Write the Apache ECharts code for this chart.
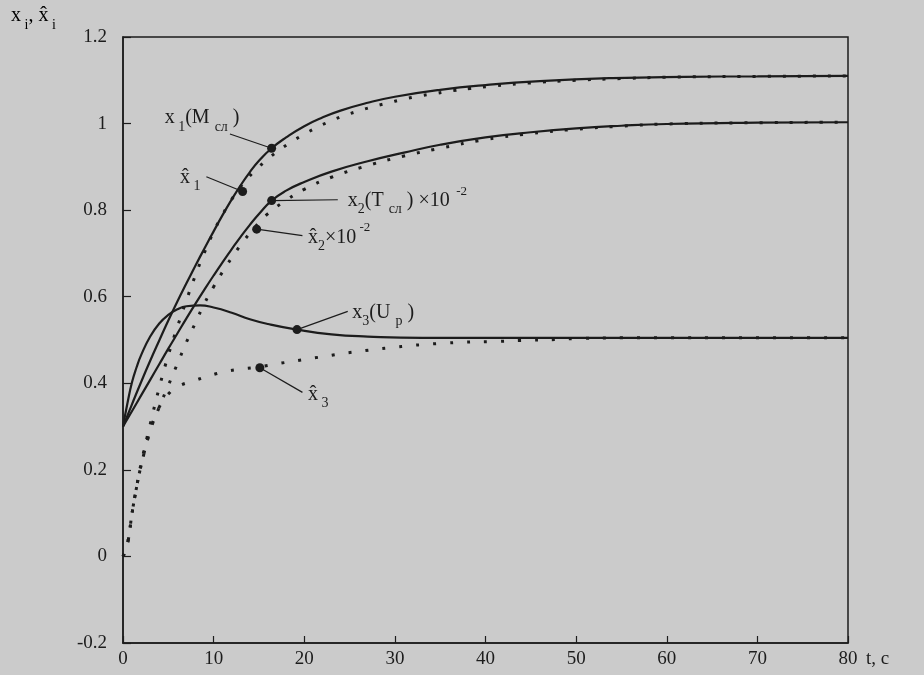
<!DOCTYPE html>
<html>
<head>
<meta charset="utf-8">
<script src="https://cdn.jsdelivr.net/npm/echarts@6/dist/echarts.min.js"></script>
<style>
  html, body { margin: 0; background: #cbcbcb; }
  #chart { width: 924px; height: 675px; }
</style>
</head>
<body>
<div id="chart"></div>
<script>
// x1 (Mсл), solid
const t1 = [0, 1, 2, 3, 4, 5, 6, 7, 8, 9, 10, 11, 12, 13, 14, 15, 16.4, 18, 20, 22, 24, 27, 30, 35, 40, 46, 54, 62, 70, 80]
const x1 = [0.30, 0.352, 0.403, 0.452, 0.499, 0.545, 0.589, 0.631, 0.672, 0.712, 0.751, 0.789, 0.825, 0.858, 0.888, 0.914, 0.943, 0.968, 0.994, 1.014, 1.03, 1.048, 1.062, 1.078, 1.089, 1.098, 1.105, 1.108, 1.109, 1.11]

// x2 (Tсл) x 10^-2, solid
const t2 = [0, 1, 2, 3, 4, 5, 6, 7, 8, 9, 10, 11, 12, 13, 14, 15, 16.4, 18, 20, 23, 27, 31, 35, 40, 45, 50, 55, 60, 70, 80]
const x2 = [0.30, 0.336, 0.372, 0.408, 0.444, 0.48, 0.515, 0.55, 0.584, 0.617, 0.649, 0.68, 0.71, 0.739, 0.766, 0.791, 0.822, 0.845, 0.865, 0.889, 0.913, 0.933, 0.951, 0.968, 0.98, 0.989, 0.995, 0.999, 1.002, 1.003]

// x3 (Uр), solid
const t3 = [0, 0.5, 1, 1.5, 2, 3, 4, 5, 6, 7, 8.5, 10, 12, 14, 16, 19.2, 23, 27, 33, 40, 50, 60, 80]
const x3 = [0.30, 0.355, 0.403, 0.437, 0.465, 0.508, 0.538, 0.558, 0.571, 0.578, 0.58, 0.575, 0.563, 0.548, 0.537, 0.524, 0.513, 0.508, 0.505, 0.505, 0.505, 0.505, 0.505]

// estimates, dotted
const th1 = [0, 0.5, 1, 1.5, 2, 3, 4, 5, 6, 7, 8, 9, 10, 11, 12, 13, 14.4, 15.7, 17, 18.3, 19.7, 21.2, 22.7, 24.1, 25.8, 27.4, 29.1, 30.9, 32.8, 34.6, 36.4, 38.3, 41, 45, 50, 55, 60, 70, 80]
const xh1 = [0, 0.03, 0.1, 0.16, 0.215, 0.305, 0.39, 0.465, 0.53, 0.592, 0.65, 0.703, 0.75, 0.79, 0.825, 0.855, 0.888, 0.913, 0.935, 0.954, 0.972, 0.989, 1.004, 1.016, 1.028, 1.038, 1.047, 1.056, 1.064, 1.07, 1.076, 1.081, 1.087, 1.094, 1.1, 1.104, 1.107, 1.109, 1.11]

const th2 = [0, 0.5, 1, 1.5, 2, 3, 4, 5, 6, 7, 8, 9, 10, 11, 12, 13, 14, 15, 16, 18, 20, 23, 27, 31, 35, 40, 45, 50, 55, 60, 70, 80]
const xh2 = [0, 0.03, 0.1, 0.16, 0.21, 0.29, 0.345, 0.395, 0.445, 0.495, 0.54, 0.585, 0.623, 0.658, 0.69, 0.72, 0.747, 0.771, 0.792, 0.823, 0.848, 0.876, 0.903, 0.925, 0.943, 0.963, 0.977, 0.987, 0.994, 0.999, 1.002, 1.003]

const th3 = [0, 0.5, 1, 1.5, 2, 3, 4, 5, 6, 8, 9.6, 11.3, 13.1, 15.1, 17, 18.8, 20.6, 22.5, 24.3, 26.2, 28, 29.8, 31.7, 33.5, 35.7, 37.7, 41.6, 43.8, 47.8, 49.7, 55, 80]
const xh3 = [0, 0.03, 0.1, 0.16, 0.21, 0.29, 0.345, 0.375, 0.392, 0.407, 0.418, 0.427, 0.433, 0.438, 0.445, 0.451, 0.457, 0.463, 0.469, 0.474, 0.479, 0.483, 0.487, 0.49, 0.493, 0.495, 0.497, 0.499, 0.501, 0.503, 0.505, 0.505]

// label dots on the curves
const markT = [16.4, 13.2, 16.4, 14.75, 19.2, 15.1]
const markY = [0.943, 0.843, 0.822, 0.756, 0.524, 0.436]

const xTicks = [0, 10, 20, 30, 40, 50, 60, 70, 80]
const yTicks = [-0.2, 0, 0.2, 0.4, 0.6, 0.8, 1, 1.2]

const serif = 'Liberation Serif'
const ink = '#1c1c1c'

// где стоят подписи и откуда идут выноски (в единицах осей)
const notes = [
  { at: [4.6, 1.013], from: [11.8, 0.976], text: '{n|x}{s| 1}{n|(M }{s|сл}{n| )}' },
  { at: [6.3, 0.875], from: [9.2, 0.877], text: '{n|x\u0302}{s| 1}' },
  { at: [24.8, 0.822], from: [23.7, 0.824], text: '{n|x}{s|2}{n|(T }{s|сл}{n| ) ×10}{p|  -2}' },
  { at: [20.4, 0.737], from: [19.8, 0.741], text: '{n|x\u0302}{s|2}{n|×10}{p| -2}' },
  { at: [25.3, 0.564], from: [24.8, 0.566], text: '{n|x}{s|3}{n|(U }{s|р}{n| )}' },
  { at: [20.4, 0.374], from: [19.8, 0.379], text: '{n|x\u0302}{s| 3}' }
]

const rich = {
  n: { fontFamily: serif, fontSize: 20, color: ink, lineHeight: 32 },
  s: { fontFamily: serif, fontSize: 14, color: ink, verticalAlign: 'bottom' },
  p: { fontFamily: serif, fontSize: 13, color: ink, verticalAlign: 'top' }
}

const pairs = (t, v) => t.map((ti, i) => [ti, v[i]])

const solid = (name, t, v) => ({
  name, type: 'line', data: pairs(t, v), showSymbol: false, smooth: 0.5,
  lineStyle: { color: ink, width: 2.2 }
})
const dotted = (name, t, v, gap) => ({
  name, type: 'line', data: pairs(t, v), showSymbol: false, smooth: 0.5,
  lineStyle: { color: ink, width: 3, type: [3, gap] }
})

const chart = echarts.init(document.getElementById('chart'))
chart.setOption({
  animation: false,
  backgroundColor: '#cbcbcb',
  grid: { left: 123, right: 76, top: 37, bottom: 32, show: true, borderColor: ink, borderWidth: 1.5 },
  xAxis: {
    type: 'value', min: xTicks[0], max: xTicks[xTicks.length - 1], interval: 10,
    axisLine: { onZero: false, lineStyle: { color: ink, width: 1.5 } },
    axisTick: { inside: true, length: 7, lineStyle: { color: ink, width: 1.2 } },
    axisLabel: { color: ink, fontFamily: serif, fontSize: 19, margin: 7 },
    splitLine: { show: false }
  },
  yAxis: {
    type: 'value', min: yTicks[0], max: yTicks[yTicks.length - 1], interval: 0.2,
    axisLine: { show: true, onZero: false, lineStyle: { color: ink, width: 1.5 } },
    axisTick: { show: true, inside: true, length: 8, lineStyle: { color: ink, width: 1.2 } },
    axisLabel: { color: ink, fontFamily: serif, fontSize: 19, margin: 16 },
    splitLine: { show: false }
  },
  graphic: [
    { type: 'text', left: 11, top: 6, style: { text: '{n|x}{s| i}{n|, x\u0302}{s| i}', rich } },
    { type: 'text', left: 866, top: 650, style: { text: 't, c', font: '19px "Liberation Serif"', fill: ink } }
  ],
  series: [
    solid('x1', t1, x1),
    solid('x2', t2, x2),
    solid('x3', t3, x3),
    dotted('xh1', th1, xh1, 12),
    dotted('xh2', th2, xh2, 12),
    dotted('xh3', th3, xh3, 14),
    {
      name: 'marks', type: 'scatter', data: pairs(markT, markY),
      symbolSize: 9, itemStyle: { color: ink, opacity: 1 }, z: 5,
      markLine: {
        silent: true, symbol: ['none', 'none'], label: { show: false },
        lineStyle: { type: 'solid', color: ink, width: 1.2, opacity: 1 },
        data: notes.map((n, i) => [{ coord: n.from }, { coord: [markT[i], markY[i]] }])
      }
    },
    {
      name: 'notes', type: 'scatter', symbolSize: 0, silent: true, z: 6,
      itemStyle: { opacity: 1 },
      label: { show: true, position: 'right', distance: 0, color: ink, opacity: 1, rich },
      data: notes.map(n => ({
        value: n.at,
        label: { formatter: n.text }
      }))
    }
  ]
})
</script>
</body>
</html>
